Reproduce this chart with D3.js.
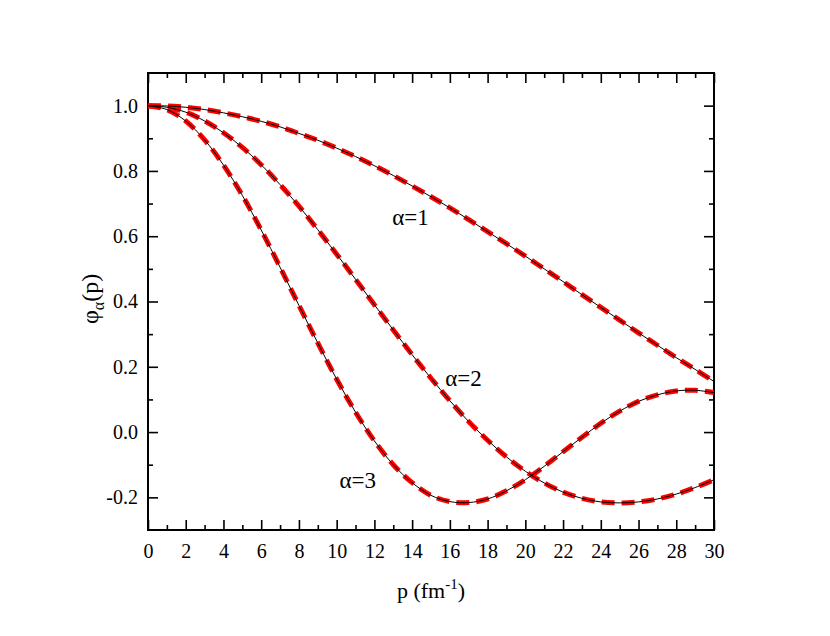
<!DOCTYPE html>
<html>
<head>
<meta charset="utf-8">
<script src="https://cdn.jsdelivr.net/npm/d3@7/dist/d3.min.js"></script>
<style>
  body { margin: 0; background: #fff; }
  svg { display: block; }
  text { font-family: "Liberation Serif", "Times New Roman", serif; fill: #000; }
</style>
</head>
<body>
<svg id="chart" width="830" height="636"></svg>
<script>
// ---- data ----
const pValues = [0,1,2,3,4,5,6,7,8,9,10,11,12,13,14,15,16,17,18,19,20,21,22,23,24,25,26,27,28,29,30];
const phi1 = [1.000,0.999,0.995,0.988,0.978,0.966,0.952,0.935,0.915,0.894,0.870,0.844,0.816,0.786,0.754,0.721,0.687,0.651,0.614,0.577,0.539,0.500,0.461,0.421,0.382,0.343,0.304,0.266,0.228,0.192,0.155];
const phi2 = [1.000,0.995,0.980,0.953,0.917,0.872,0.819,0.758,0.692,0.620,0.545,0.468,0.390,0.313,0.237,0.165,0.096,0.032,-0.025,-0.076,-0.120,-0.156,-0.184,-0.203,-0.214,-0.217,-0.214,-0.205,-0.190,-0.170,-0.146];
const phi3 = [1.000,0.988,0.953,0.895,0.818,0.725,0.619,0.505,0.388,0.273,0.162,0.061,-0.027,-0.100,-0.155,-0.194,-0.213,-0.216,-0.205,-0.180,-0.146,-0.105,-0.060,-0.016,0.027,0.064,0.094,0.114,0.126,0.128,0.121];
const seriesLabels = ["α=1", "α=2", "α=3"];
const labelPos = [[12.95, 0.635], [15.75, 0.141], [10.15, -0.172]]; // data coords of annotation start
const xMajorTicks = [0,2,4,6,8,10,12,14,16,18,20,22,24,26,28,30];
const xMinorTicks = [1,3,5,7,9,11,13,15,17,19,21,23,25,27,29];
const yMajorTicks = [-0.2,0.0,0.2,0.4,0.6,0.8,1.0];
const yMinorTicks = [-0.1,0.1,0.3,0.5,0.7,0.9];

// ---- layout ----
const L = 148, R = 714, T = 73, B = 530;
const svg = d3.select("#chart");
const x = d3.scaleLinear().domain([0, 30]).range([L, R]);
const y = d3.scaleLinear().domain([-0.3, 1.1]).range([B, T]);

const fmtY = v => d3.format(".1f")(v).replace("−", "-");

function styleAxis(g) {
  g.select(".domain").remove();
  g.selectAll(".tick line").attr("stroke", "#000").attr("stroke-width", 1.6);
}
// bottom
svg.append("g").attr("transform", `translate(0,${B})`)
  .call(d3.axisBottom(x).tickValues(xMajorTicks).tickSize(-10).tickPadding(14).tickFormat(d3.format("d")))
  .call(styleAxis)
  .call(g => g.selectAll(".tick text").attr("font-size", 20).attr("dy", "0.71em"));
svg.append("g").attr("transform", `translate(0,${B})`)
  .call(d3.axisBottom(x).tickValues(xMinorTicks).tickSize(-5).tickFormat(""))
  .call(styleAxis);
// top
svg.append("g").attr("transform", `translate(0,${T})`)
  .call(d3.axisTop(x).tickValues(xMajorTicks).tickSize(-10).tickFormat(""))
  .call(styleAxis);
svg.append("g").attr("transform", `translate(0,${T})`)
  .call(d3.axisTop(x).tickValues(xMinorTicks).tickSize(-5).tickFormat(""))
  .call(styleAxis);
// left
svg.append("g").attr("transform", `translate(${L},0)`)
  .call(d3.axisLeft(y).tickValues(yMajorTicks).tickSize(-10).tickPadding(10).tickFormat(fmtY))
  .call(styleAxis)
  .call(g => g.selectAll(".tick text").attr("font-size", 20));
svg.append("g").attr("transform", `translate(${L},0)`)
  .call(d3.axisLeft(y).tickValues(yMinorTicks).tickSize(-5).tickFormat(""))
  .call(styleAxis);
// right
svg.append("g").attr("transform", `translate(${R},0)`)
  .call(d3.axisRight(y).tickValues(yMajorTicks).tickSize(-10).tickFormat(""))
  .call(styleAxis);
svg.append("g").attr("transform", `translate(${R},0)`)
  .call(d3.axisRight(y).tickValues(yMinorTicks).tickSize(-5).tickFormat(""))
  .call(styleAxis);

// frame
svg.append("rect").attr("x", L).attr("y", T).attr("width", R - L).attr("height", B - T)
  .attr("fill", "none").attr("stroke", "#000").attr("stroke-width", 2);

// curves
const line = d3.line().x((d, i) => x(pValues[i])).y(d => y(d)).curve(d3.curveCatmullRom.alpha(0.5));
const series = [phi1, phi2, phi3];
svg.append("clipPath").attr("id", "clip").append("rect")
  .attr("x", L).attr("y", T).attr("width", R - L).attr("height", B - T);
const cg = svg.append("g").attr("clip-path", "url(#clip)");
series.forEach(s => {
  cg.append("path").attr("d", line(s)).attr("fill", "none")
    .attr("stroke", "#ff0000").attr("stroke-width", 5).attr("stroke-dasharray", "13,7");
});
series.forEach(s => {
  cg.append("path").attr("d", line(s)).attr("fill", "none")
    .attr("stroke", "#000").attr("stroke-width", 1.0);
});

// annotations
seriesLabels.forEach((t, i) => {
  svg.append("text").attr("x", x(labelPos[i][0])).attr("y", y(labelPos[i][1]))
    .attr("font-size", 23).text(t);
});

// axis titles
const xt = svg.append("text").attr("x", 431).attr("y", 598).attr("text-anchor", "middle").attr("font-size", 22);
xt.append("tspan").text("p (fm");
xt.append("tspan").attr("font-size", 15).attr("dy", -9).text("-1");
xt.append("tspan").attr("dy", 9).text(")");

const yt = svg.append("text").attr("transform", "translate(98,299) rotate(-90)").attr("text-anchor", "middle").attr("font-size", 24);
yt.append("tspan").text("φ");
yt.append("tspan").attr("font-size", 16).attr("dy", 6).text("α");
yt.append("tspan").attr("dy", -6).text("(p)");
</script>
</body>
</html>
